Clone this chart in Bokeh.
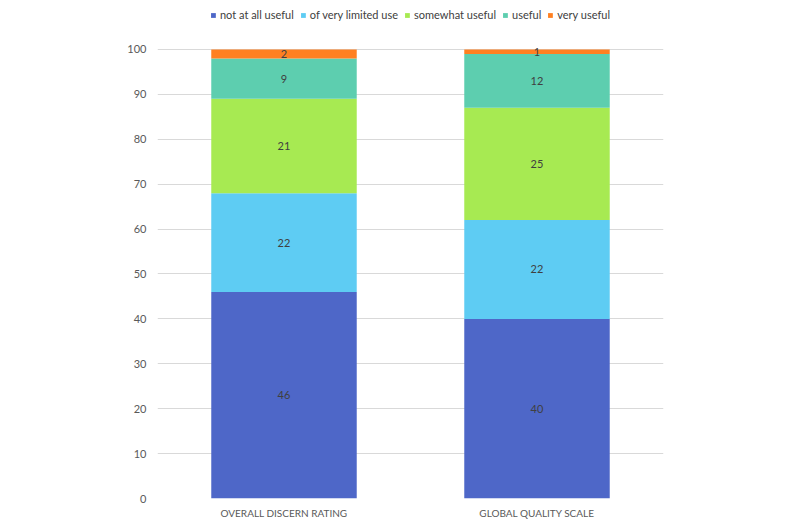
from bokeh.plotting import figure
from bokeh.models import FactorRange, Range1d, Legend, LegendItem, ColumnDataSource, FixedTicker
from bokeh.core.properties import value
from bokeh.embed import file_html
from bokeh.resources import INLINE

categories = ["OVERALL DISCERN RATING", "GLOBAL QUALITY SCALE"]
series = ["not at all useful", "of very limited use", "somewhat useful", "useful", "very useful"]
not_at_all = [46, 40]
very_limited = [22, 22]
somewhat = [21, 25]
useful = [9, 12]
very_useful = [2, 1]
colors = ["#4E67C8", "#5ECCF3", "#A7EA52", "#5DCEAF", "#FF8021"]
y_ticks = [0, 10, 20, 30, 40, 50, 60, 70, 80, 90, 100]

keys = ["s0", "s1", "s2", "s3", "s4"]
vals = [not_at_all, very_limited, somewhat, useful, very_useful]
data = {"cat": categories}
for k, v in zip(keys, vals):
    data[k] = v
src = ColumnDataSource(data)

FONT = "Lato"

p = figure(x_range=FactorRange(*categories, range_padding=0), y_range=Range1d(0, 110.9),
           width=784, height=524, output_backend="svg", toolbar_location=None,
           min_border_left=157, min_border_right=121, min_border_top=0, min_border_bottom=26)

renderers = p.vbar_stack(keys, x="cat", width=0.575, color=colors, source=src, line_color=None)

# segment labels
lx, ly, lt = [], [], []
for i, c in enumerate(categories):
    base = 0
    for v in vals:
        lx.append(c)
        ly.append(base + v[i] / 2)
        lt.append(str(v[i]))
        base += v[i]
p.text(x=lx, y=ly, text=lt, text_align="center", text_baseline="middle",
       text_font=value(FONT), text_font_size="11px", text_color="#404040")

legend = Legend(items=[LegendItem(label=s, renderers=[r]) for s, r in zip(series, renderers)],
                orientation="horizontal", location="top_center",
                label_text_font=FONT, label_text_font_size="11px", label_text_color="#404040",
                glyph_width=6, glyph_height=6, spacing=6, label_standoff=4,
                border_line_color=None, background_fill_alpha=0, padding=4, margin=8)
p.add_layout(legend, "center")

p.xgrid.grid_line_color = None
p.ygrid.grid_line_color = "#D9D9D9"
p.ygrid.grid_line_width = 1
p.yaxis.ticker = FixedTicker(ticks=y_ticks)
p.outline_line_color = None
for ax in (p.xaxis, p.yaxis):
    ax.axis_line_color = None
    ax.major_tick_line_color = None
    ax.minor_tick_line_color = None
    ax.major_tick_out = 0
    ax.major_tick_in = 0
    ax.major_label_text_font = FONT
    ax.major_label_text_color = "#595959"
p.yaxis.major_label_text_font_size = "11px"
p.xaxis.major_label_text_font_size = "10px"
p.yaxis.major_label_standoff = 11
p.xaxis.major_label_standoff = 8

open("out.html", "w").write(file_html(p, INLINE))
